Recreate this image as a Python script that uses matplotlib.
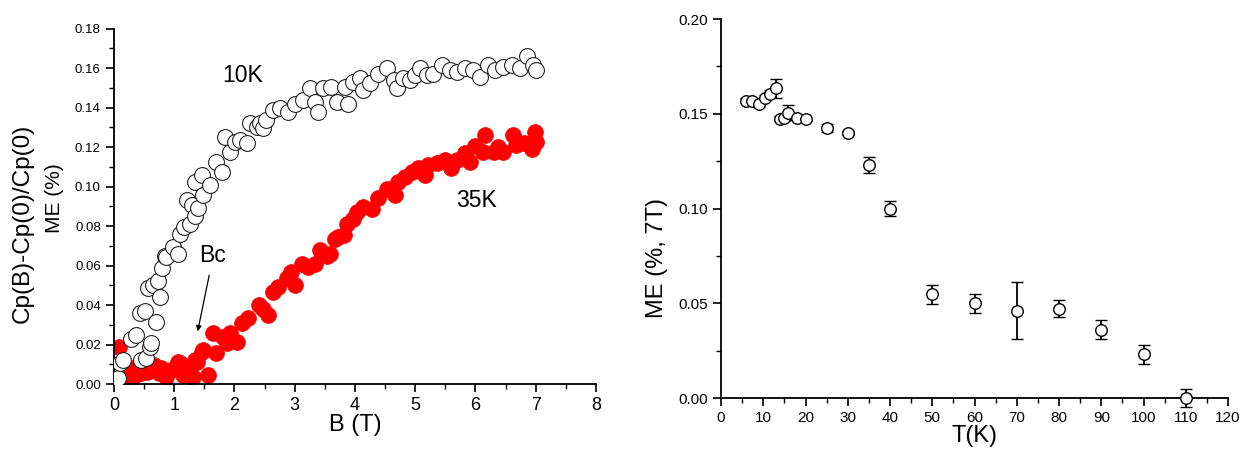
import matplotlib
matplotlib.use("Agg")
import matplotlib.pyplot as plt
from matplotlib.ticker import MultipleLocator

plt.rcParams['font.family'] = ['Liberation Sans', 'DejaVu Sans']

# ---- Left panel: 10K (open circles) ----
b_10k = [0.02, 0.07, 0.10, 0.15, 0.29, 0.37, 0.43, 0.45, 0.51, 0.53, 0.56, 0.59, 0.62, 0.65,
         0.70, 0.73, 0.76, 0.79, 0.85, 0.87, 0.98, 1.06, 1.10, 1.16, 1.21, 1.26, 1.29, 1.34,
         1.34, 1.40, 1.46, 1.48, 1.59, 1.70, 1.79, 1.84, 1.93, 2.01, 2.09, 2.20, 2.26, 2.37,
         2.42, 2.48, 2.53, 2.64, 2.76, 2.89, 3.00, 3.14, 3.25, 3.34, 3.39, 3.47, 3.61, 3.70,
         3.83, 3.89, 3.97, 4.08, 4.14, 4.25, 4.39, 4.53, 4.64, 4.69, 4.80, 4.91, 5.00, 5.08,
         5.19, 5.30, 5.44, 5.58, 5.69, 5.83, 5.96, 6.07, 6.21, 6.32, 6.46, 6.60, 6.74, 6.85,
         6.96, 7.01]
me_10k = [0.002, 0.003, 0.0106, 0.012, 0.023, 0.025, 0.036, 0.012, 0.037, 0.013, 0.0486, 0.019,
          0.021, 0.050, 0.0315, 0.052, 0.044, 0.0586, 0.065, 0.0645, 0.0695, 0.066, 0.076,
          0.0795, 0.093, 0.081, 0.0906, 0.085, 0.1024, 0.089, 0.1058, 0.0957, 0.1008, 0.1126,
          0.1075, 0.125, 0.1176, 0.1227, 0.1235, 0.1219, 0.132, 0.130, 0.132, 0.1295, 0.1337,
          0.1387, 0.1396, 0.1379, 0.142, 0.1438, 0.1497, 0.143, 0.1379, 0.1497, 0.1505, 0.143,
          0.1505, 0.142, 0.153, 0.1548, 0.1489, 0.1526, 0.157, 0.160, 0.154, 0.1497, 0.155,
          0.154, 0.1565, 0.160, 0.1565, 0.157, 0.1615, 0.159, 0.158, 0.160, 0.159, 0.1556,
          0.1615, 0.159, 0.1607, 0.1615, 0.160, 0.166, 0.1615, 0.159]

# ---- Left panel: 35K (red filled) ----
b_35k = [0.09, 0.15, 0.20, 0.25, 0.29, 0.33, 0.37, 0.41, 0.45, 0.51, 0.55, 0.59, 0.63, 0.67,
         0.74, 0.78, 0.82, 0.87, 0.94, 1.06, 1.10, 1.15, 1.23, 1.31, 1.34, 1.37, 1.46, 1.48,
         1.56, 1.65, 1.70, 1.81, 1.88, 1.93, 2.04, 2.12, 2.23, 2.40, 2.48, 2.56, 2.64, 2.73,
         2.87, 2.93, 3.00, 3.12, 3.22, 3.34, 3.42, 3.53, 3.59, 3.67, 3.72, 3.81, 3.86, 3.97,
         4.03, 4.14, 4.28, 4.39, 4.53, 4.66, 4.72, 4.83, 4.94, 5.05, 5.16, 5.22, 5.36, 5.49,
         5.60, 5.69, 5.83, 5.91, 5.99, 6.13, 6.16, 6.30, 6.38, 6.46, 6.63, 6.68, 6.80, 6.93,
         6.99, 7.01]
me_35k = [0.019, 0.002, 0.0046, 0.006, 0.007, 0.004, 0.0088, 0.007, 0.0054, 0.0096, 0.006, 0.008,
          0.007, 0.0096, 0.0054, 0.008, 0.007, 0.0037, 0.007, 0.0113, 0.0105, 0.0046, 0.0088,
          0.0037, 0.012, 0.0113, 0.0164, 0.0172, 0.0046, 0.0257, 0.0155, 0.024, 0.021, 0.0257,
          0.0214, 0.0307, 0.0333, 0.040, 0.038, 0.035, 0.0467, 0.049, 0.0535, 0.057, 0.050,
          0.061, 0.0595, 0.061, 0.068, 0.065, 0.066, 0.0737, 0.0745, 0.0754, 0.0813, 0.0838,
          0.0872, 0.0898, 0.0889, 0.094, 0.099, 0.0957, 0.1024, 0.105, 0.1075, 0.1092, 0.1058,
          0.1109, 0.1117, 0.1134, 0.1092, 0.1134, 0.1168, 0.1126, 0.1205, 0.1176, 0.126, 0.1176,
          0.120, 0.1176, 0.126, 0.121, 0.122, 0.119, 0.1277, 0.1227]

# ---- Right panel: ME at 7T vs T ----
t_k = [6, 7.3, 9.1, 10.4, 11.6, 13, 14, 14.9, 15.9, 18, 20, 25, 30, 35, 40,
       50, 60, 70, 80, 90, 100, 110]
me_7t = [0.157, 0.1565, 0.155, 0.1586, 0.1607, 0.1635, 0.1475, 0.148, 0.1505, 0.148, 0.147,
         0.1425, 0.140, 0.123, 0.100, 0.0548, 0.0500, 0.0460, 0.0470, 0.0360, 0.0230, 0.0]
me_err = [0.0015, 0.002, 0.0015, 0.0015, 0.002, 0.005, 0.0015, 0.002, 0.004, 0.001, 0.001,
          0.002, 0.001, 0.004, 0.004, 0.005, 0.005, 0.015, 0.0045, 0.005, 0.005, 0.0047]

W, H = 1244, 454
fig = plt.figure(figsize=(W / 100, H / 100), dpi=100)

# Left axes
ax1 = fig.add_axes([0.0916, 0.154, 0.3875, 0.783])
ax1.scatter(b_35k, me_35k, s=130, c='#ff0000', edgecolors='#ff0000', linewidths=0.5, zorder=2)
ax1.scatter(b_10k, me_10k, s=130, facecolors='white', edgecolors='#222222', linewidths=0.8, zorder=3)
ax1.set_xlim(0, 8)
ax1.set_ylim(0, 0.18)
ax1.xaxis.set_major_locator(MultipleLocator(1))
ax1.xaxis.set_minor_locator(MultipleLocator(0.5))
ax1.yaxis.set_major_locator(MultipleLocator(0.02))
ax1.yaxis.set_minor_locator(MultipleLocator(0.01))
ax1.yaxis.set_major_formatter(matplotlib.ticker.FormatStrFormatter('%.2f'))
for s in ['top', 'right']:
    ax1.spines[s].set_visible(False)
for s in ['left', 'bottom']:
    ax1.spines[s].set_linewidth(1.3)
ax1.tick_params(which='major', direction='out', length=6, width=1.2, labelsize=9.5)
ax1.tick_params(axis='x', which='major', labelsize=13)
ax1.tick_params(which='minor', direction='out', length=3.5, width=1.0)
ax1.set_xlabel('B (T)', fontsize=17, labelpad=0)
fig.text(23 / W, 1 - 223 / H, 'Cp(B)-Cp(0)/Cp(0)', rotation=90, fontsize=17.5,
         ha='center', va='center')
fig.text(54 / W, 1 - 198 / H, 'ME (%)', rotation=90, fontsize=15,
         ha='center', va='center')
ax1.text(2.14, 0.156, '10K', fontsize=16.5, ha='center', va='center')
ax1.text(6.02, 0.093, '35K', fontsize=16.5, ha='center', va='center')
ax1.text(1.63, 0.065, 'Bc', fontsize=16.5, ha='center', va='center')
ax1.annotate('', xy=(1.38, 0.0253), xytext=(1.59, 0.0565),
             arrowprops=dict(arrowstyle='-|>', color='black', lw=0.9, mutation_scale=8))

# Right axes
ax2 = fig.add_axes([0.5796, 0.1233, 0.4076, 0.8347])
ax2.errorbar(t_k, me_7t, yerr=me_err, fmt='o', markersize=8.3, markerfacecolor='white',
             markeredgecolor='black', markeredgewidth=1.0, ecolor='black', elinewidth=1.3,
             capsize=4, capthick=1.3, clip_on=False, zorder=3)
ax2.set_xlim(0, 120)
ax2.set_ylim(0, 0.20)
ax2.xaxis.set_major_locator(MultipleLocator(10))
ax2.xaxis.set_minor_locator(MultipleLocator(5))
ax2.yaxis.set_major_locator(MultipleLocator(0.05))
ax2.yaxis.set_minor_locator(MultipleLocator(0.025))
ax2.yaxis.set_major_formatter(matplotlib.ticker.FormatStrFormatter('%.2f'))
for s in ['top', 'right']:
    ax2.spines[s].set_visible(False)
for s in ['left', 'bottom']:
    ax2.spines[s].set_linewidth(1.3)
ax2.tick_params(which='major', direction='out', length=6, width=1.2, labelsize=11)
ax2.tick_params(which='minor', direction='out', length=3.5, width=1.0)
ax2.set_xlabel('T(K)', fontsize=17, labelpad=0)
fig.text(657 / W, 1 - 258 / H, 'ME (%, 7T)', rotation=90, fontsize=17,
         ha='center', va='center')

fig.savefig('out.png', dpi=100)
